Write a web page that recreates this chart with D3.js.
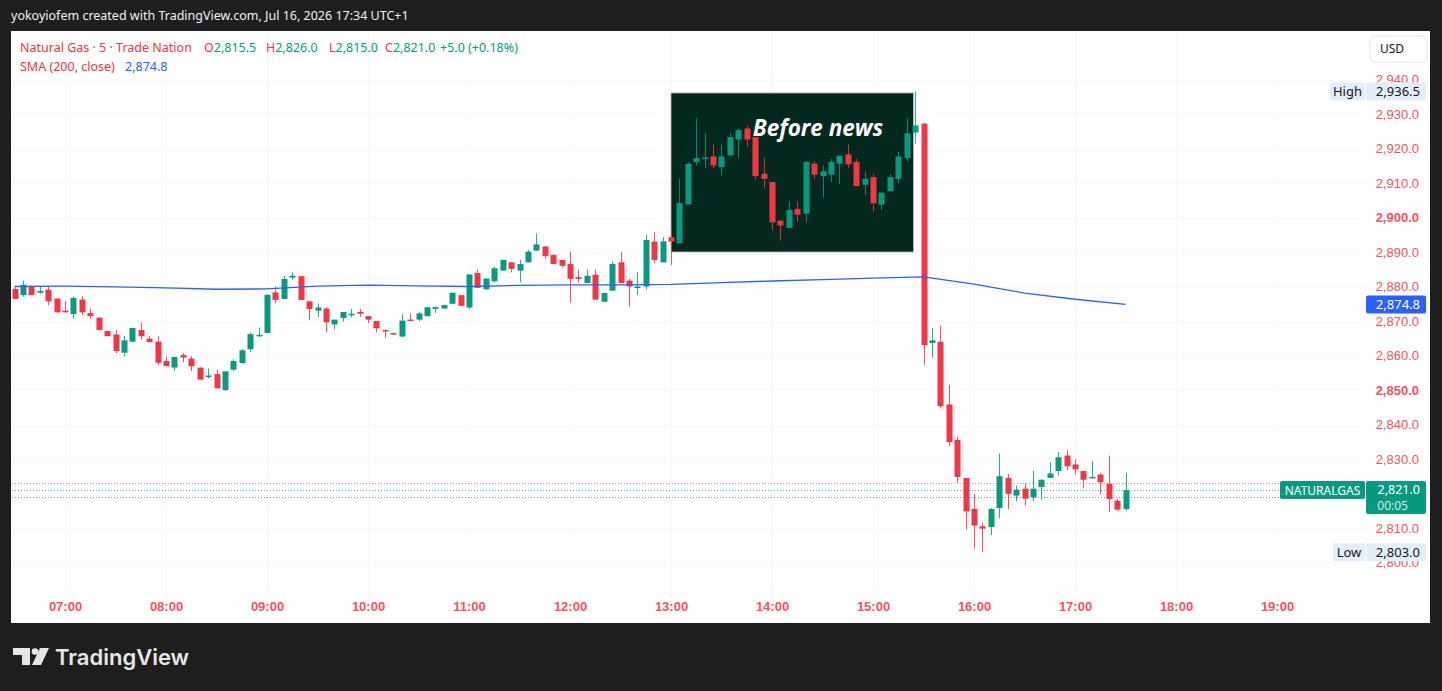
<!DOCTYPE html>
<meta charset="utf-8">
<style>
body { margin: 0; background: #1e1e1e; }
svg { display: block; font-family: "Noto Sans", Roboto, sans-serif; }
.axis text { font-size: 13px; fill: #f7525f; }
.axis .domain { display: none; }
.grid line { stroke: #f8f8fa; stroke-width: 1; }
</style>
<body>
<script src="https://d3js.org/d3.v7.min.js"></script>
<script>
// 5 minute candles, first one at 06:30, last one at 17:30
var startTime = "2026-07-16T06:30:00";
var stepMinutes = 5;

var opens = [2879.3,2877.5,2880.0,2878.2,2879.1,2876.5,2873.0,2872.0,2876.2,2872.3,
  2871.0,2867.1,2866.1,2860.8,2864.0,2867.4,2864.9,2864.0,2858.4,2856.5,
  2860.1,2859.1,2856.5,2854.0,2854.6,2850.0,2855.9,2857.8,2861.8,2865.6,
  2866.5,2878.3,2876.4,2882.6,2883.0,2875.7,2873.0,2873.6,2869.0,2870.9,
  2871.9,2872.6,2871.4,2870.0,2867.4,2866.5,2865.5,2870.4,2870.4,2871.4,
  2873.5,2873.6,2875.0,2877.5,2873.9,2883.9,2879.2,2881.5,2884.6,2887.0,
  2884.6,2887.0,2890.4,2891.6,2889.2,2887.7,2886.5,2882.7,2881.0,2883.4,
  2875.6,2878.8,2887.0,2881.7,2879.7,2880.0,2893.0,2887.0,2894.3,2892.5,
  2903.8,2916.1,2916.9,2917.7,2914.6,2918.0,2922.6,2925.8,2923.3,2912.7,
  2910.3,2899.1,2897.0,2902.5,2901.1,2915.6,2912.0,2912.4,2915.6,2918.3,
  2916.1,2909.5,2911.7,2903.7,2907.6,2911.2,2917.2,2924.6,2927.2,2863.6,
  2864.0,2845.8,2835.5,2824.5,2815.5,2810.5,2810.3,2815.8,2824.5,2819.4,
  2821.4,2818.9,2821.9,2824.5,2826.5,2831.0,2828.4,2826.5,2824.5,2825.5,
  2822.8,2817.9,2815.5];
var highs = [2879.8,2881.7,2880.2,2880.0,2880.0,2876.5,2875.7,2877.1,2877.1,2873.6,
  2871.0,2867.1,2867.4,2865.7,2868.0,2869.6,2865.6,2865.6,2859.7,2859.6,
  2860.7,2859.8,2856.5,2856.2,2856.0,2855.4,2858.9,2861.8,2866.7,2868.1,
  2877.6,2880.0,2883.1,2884.1,2883.0,2875.7,2875.1,2874.0,2870.4,2872.6,
  2873.5,2873.5,2871.4,2870.0,2867.4,2866.5,2872.0,2872.2,2872.7,2874.0,
  2874.2,2874.6,2878.2,2877.5,2883.5,2884.9,2882.3,2885.8,2887.7,2887.0,
  2887.7,2890.6,2895.3,2891.6,2889.2,2887.7,2890.1,2884.8,2884.9,2884.9,
  2878.1,2887.2,2890.1,2882.2,2884.1,2895.0,2895.7,2894.3,2896.2,2911.2,
  2916.0,2928.7,2924.4,2921.2,2921.2,2924.4,2925.8,2926.5,2923.3,2917.2,
  2910.3,2899.1,2904.7,2904.7,2916.3,2916.3,2915.1,2917.0,2917.9,2921.2,
  2917.0,2913.4,2912.7,2907.2,2912.5,2919.0,2928.7,2936.5,2927.5,2867.9,
  2868.6,2851.5,2836.4,2824.5,2819.9,2811.6,2815.8,2831.6,2825.7,2822.3,
  2822.9,2826.5,2824.0,2829.1,2832.0,2832.5,2829.9,2826.5,2829.4,2826.0,
  2831.0,2818.5,2826.0];
var lows = [2876.4,2877.0,2877.5,2877.9,2874.6,2872.5,2872.5,2870.7,2871.7,2870.7,
  2867.4,2865.6,2860.6,2859.7,2864.0,2864.6,2863.9,2857.2,2856.9,2855.5,
  2858.1,2855.5,2853.0,2853.3,2850.5,2849.7,2855.5,2857.6,2861.1,2865.4,
  2866.5,2875.2,2876.4,2882.0,2876.1,2870.3,2871.2,2866.7,2867.6,2869.8,
  2871.0,2871.2,2869.4,2866.7,2865.1,2866.1,2865.3,2870.0,2870.0,2871.4,
  2872.3,2873.6,2875.0,2874.4,2873.6,2879.6,2878.9,2881.2,2884.6,2884.1,
  2881.2,2887.0,2890.4,2888.0,2886.5,2885.5,2875.4,2881.2,2881.0,2876.2,
  2875.4,2878.8,2881.0,2874.2,2877.6,2879.2,2886.7,2887.0,2886.3,2892.5,
  2903.8,2915.1,2914.3,2914.3,2912.2,2917.7,2917.4,2920.4,2911.0,2908.4,
  2896.2,2893.3,2897.0,2898.8,2898.6,2911.2,2905.7,2910.3,2909.7,2914.3,
  2909.1,2906.6,2901.7,2902.2,2907.4,2909.8,2916.3,2921.4,2857.3,2859.4,
  2844.7,2833.7,2823.1,2809.5,2804.0,2803.0,2808.0,2812.9,2815.5,2817.7,
  2816.5,2817.7,2818.2,2824.5,2825.2,2826.7,2825.5,2821.6,2824.5,2819.7,
  2814.7,2815.0,2815.0];
var closes = [2876.4,2880.5,2877.5,2878.7,2875.7,2872.5,2872.5,2876.7,2872.5,2871.4,
  2867.4,2865.6,2861.3,2864.4,2868.0,2865.6,2863.9,2857.9,2856.9,2859.6,
  2859.4,2856.9,2853.0,2854.2,2850.5,2855.4,2858.4,2861.5,2866.2,2866.0,
  2877.6,2876.1,2882.2,2883.1,2876.1,2873.5,2873.9,2869.6,2870.4,2872.6,
  2872.1,2872.1,2870.4,2867.9,2867.1,2866.1,2870.1,2870.0,2872.2,2874.0,
  2874.0,2874.6,2878.2,2874.4,2883.5,2879.6,2882.3,2885.3,2887.7,2885.1,
  2886.5,2890.1,2892.2,2888.8,2886.5,2886.0,2882.2,2882.2,2883.1,2876.2,
  2878.1,2886.5,2881.0,2880.0,2880.0,2893.5,2887.7,2893.1,2893.0,2904.2,
  2915.6,2917.2,2917.4,2915.1,2917.7,2923.3,2925.3,2922.6,2912.0,2911.2,
  2898.6,2897.7,2902.2,2900.8,2916.1,2912.4,2913.4,2916.1,2917.9,2915.4,
  2909.1,2911.2,2904.1,2907.2,2911.7,2917.7,2924.4,2926.7,2863.0,2864.4,
  2845.3,2834.9,2824.8,2814.8,2810.7,2809.8,2815.5,2825.0,2819.9,2821.1,
  2818.5,2821.4,2824.0,2825.8,2830.5,2827.9,2827.0,2824.0,2824.8,2823.3,
  2818.4,2815.3,2821.0];

// SMA(200) read every 6th candle (every half hour)
var smaIndex = [0,6,12,18,24,30,36,42,48,54,60,66,72,78,84,90,96,102,108,114,120,126,132];
var smaValues = [2880.0,2880.1,2879.9,2879.6,2879.2,2879.3,2880.1,2880.4,2880.2,2880.0,
  2880.3,2880.5,2880.5,2880.6,2881.1,2881.6,2882.0,2882.4,2882.8,2880.7,2878.1,2876.3,2874.8];

// 2,820.0 sits under the last price tag, so it is not drawn
var priceTicks = [2800,2810,2830,2840,2850,2860,2870,2880,2890,2900,2910,2920,2930,2940];
var gridTicks = [2800,2810,2820,2830,2840,2850,2860,2870,2880,2890,2900,2910,2920,2930,2940];
var strongTicks = [2850,2900];
var bidAskLines = [{p: 2823.0, c: "#f7525f"}, {p: 2821.0, c: "#089981"}, {p: 2819.0, c: "#2962ff"}];

var lastPrice = 2821.0, smaLast = 2874.8, dayHigh = 2936.5, dayLow = 2803.0;
var newsBox = {from: "2026-07-16T13:00:00", to: "2026-07-16T15:24:00", top: 2936.1, bottom: 2890.0};

var up = "#089981", down = "#f23645";
var t0 = new Date(startTime);
var candles = opens.map(function(o, i) {
  return {t: d3.timeMinute.offset(t0, i * stepMinutes), o: o, h: highs[i], l: lows[i], c: closes[i]};
});

var W = 1442, H = 691;
var svg = d3.select("body").append("svg").attr("width", W).attr("height", H);

svg.append("rect").attr("width", W).attr("height", H).attr("fill", "#1e1e1e");
svg.append("text").attr("x", 11).attr("y", 20).attr("fill", "#f0f0f0").attr("font-size", 12.5)
  .text("yokoyiofem created with TradingView.com, Jul 16, 2026 17:34 UTC+1");

// white chart panel
svg.append("rect").attr("x", 11).attr("y", 31).attr("width", 1419).attr("height", 592).attr("fill", "#fff");

var x = d3.scaleTime()
  .domain([new Date("2026-07-16T07:00:00"), new Date("2026-07-16T19:00:00")])
  .range([65, 1277]);
var y = d3.scaleLinear().domain([2800, 2940]).range([562.5, 79.5]);

// faint grid
var grid = svg.append("g").attr("class", "grid");
grid.selectAll(".v").data(x.ticks(d3.timeHour.every(1))).enter().append("line")
  .attr("x1", function(d) { return Math.round(x(d)) + 0.5; })
  .attr("x2", function(d) { return Math.round(x(d)) + 0.5; })
  .attr("y1", 31).attr("y2", 595);
grid.selectAll(".h").data(gridTicks).enter().append("line")
  .attr("x1", 12).attr("x2", 1365)
  .attr("y1", function(d) { return Math.round(y(d)) + 0.5; })
  .attr("y2", function(d) { return Math.round(y(d)) + 0.5; });

// "Before news" box
svg.append("rect")
  .attr("x", x(new Date(newsBox.from))).attr("y", y(newsBox.top))
  .attr("width", x(new Date(newsBox.to)) - x(new Date(newsBox.from)))
  .attr("height", y(newsBox.bottom) - y(newsBox.top))
  .attr("fill", "#03291f").attr("stroke", "#b9bfbc").attr("stroke-width", 0.8);

// dotted price lines
svg.selectAll(".pl").data(bidAskLines).enter().append("line")
  .attr("x1", 12).attr("x2", 1280)
  .attr("y1", function(d) { return Math.round(y(d.p)) + 0.5; })
  .attr("y2", function(d) { return Math.round(y(d.p)) + 0.5; })
  .attr("stroke", function(d) { return d.c; }).attr("stroke-width", 1)
  .attr("stroke-dasharray", "1,2").attr("opacity", 0.7);

// candles
var cg = svg.append("g");
var cand = cg.selectAll("g").data(candles).enter().append("g");
cand.append("line")
  .attr("x1", function(d) { return Math.round(x(d.t)) + 0.5; })
  .attr("x2", function(d) { return Math.round(x(d.t)) + 0.5; })
  .attr("y1", function(d) { return y(d.h); })
  .attr("y2", function(d) { return y(d.l); })
  .attr("stroke", function(d) { return d.c >= d.o ? up : down; })
  .attr("stroke-width", 1).attr("opacity", 0.85);
cand.append("rect")
  .attr("x", function(d) { return Math.round(x(d.t)) - 2.5; })
  .attr("width", 6)
  .attr("y", function(d) { return y(Math.max(d.o, d.c)); })
  .attr("height", function(d) { return Math.max(1.5, Math.abs(y(d.o) - y(d.c))); })
  .attr("fill", function(d) { return d.c >= d.o ? up : down; });

// SMA line
svg.append("path")
  .datum(smaIndex.map(function(k, j) { return {t: candles[k].t, v: smaValues[j]}; }))
  .attr("fill", "none").attr("stroke", "#2962ff").attr("stroke-width", 1.3)
  .attr("d", d3.line()
    .x(function(d) { return x(d.t); }).y(function(d) { return y(d.v); }));

svg.append("text").attr("x", 818).attr("y", 136).attr("text-anchor", "middle")
  .attr("fill", "#fff").attr("font-size", 22.5).attr("font-weight", "bold").attr("font-style", "italic")
  .attr("font-family", "'Open Sans', 'Noto Sans', sans-serif")
  .text("Before news");

// axes
var xAxis = svg.append("g").attr("class", "axis").attr("transform", "translate(0,600)")
  .call(d3.axisBottom(x).ticks(d3.timeHour.every(1)).tickSize(0).tickPadding(2)
    .tickFormat(d3.timeFormat("%H:%M")));
xAxis.selectAll("text").attr("font-weight", 600);

var yAxis = svg.append("g").attr("class", "axis").attr("transform", "translate(1419,0)")
  .call(d3.axisLeft(y).tickValues(priceTicks).tickSize(0).tickPadding(0).tickFormat(d3.format(",.1f")));
yAxis.selectAll("text")
  .attr("font-weight", function(d) { return strongTicks.indexOf(d) >= 0 ? 700 : 400; })
  .attr("fill", function(d) { return strongTicks.indexOf(d) >= 0 ? "#f23645" : "#f7525f"; });

// price labels on the right
function tag(x0, w, yc, h, fill, txt, col, anchor, fs) {
  svg.append("rect").attr("x", x0).attr("y", yc - h / 2).attr("width", w).attr("height", h)
    .attr("rx", 2).attr("fill", fill);
  svg.append("text").attr("x", anchor === "end" ? x0 + w - 6 : x0 + w / 2).attr("y", yc + 4.5)
    .attr("text-anchor", anchor || "middle").attr("font-size", fs || 13).attr("fill", col).text(txt);
}
var f1 = d3.format(",.1f");
tag(1330, 35, y(dayHigh), 18, "#e3eefc", "High", "#131722");
tag(1366, 60, y(dayHigh), 18, "#e3eefc", f1(dayHigh), "#131722", "end");
tag(1333, 32, y(dayLow), 18, "#e3eefc", "Low", "#131722");
tag(1366, 60, y(dayLow), 18, "#e3eefc", f1(dayLow), "#131722", "end");
tag(1366, 60, y(smaLast), 18, "#2962ff", f1(smaLast), "#fff", "end");
tag(1280, 85, y(lastPrice), 18, up, "NATURALGAS", "#fff", "middle", 12);
svg.append("rect").attr("x", 1366).attr("y", y(lastPrice) - 9).attr("width", 60).attr("height", 33)
  .attr("rx", 2).attr("fill", up);
svg.append("text").attr("x", 1420).attr("y", y(lastPrice) + 4).attr("text-anchor", "end")
  .attr("font-size", 12.5).attr("fill", "#fff").text(f1(lastPrice));
svg.append("text").attr("x", 1408).attr("y", y(lastPrice) + 19.5).attr("text-anchor", "end")
  .attr("font-size", 12).attr("fill", "#cdeee6").text("00:05");

// USD button
svg.append("rect").attr("x", 1370).attr("y", 36).attr("width", 57).attr("height", 26).attr("rx", 5)
  .attr("fill", "#fff").attr("stroke", "#e0e3eb");
svg.append("text").attr("x", 1380).attr("y", 53).attr("font-size", 12).attr("fill", "#131722").text("USD");

// legend lines
var l1 = svg.append("text").attr("x", 20).attr("y", 52).attr("font-size", 12.5);
l1.append("tspan").attr("fill", down).text("Natural Gas · 5 · Trade Nation");
[["O", "2,815.5", 204], ["H", "2,826.0", 266], ["L", "2,815.0", 329], ["C", "2,821.0", 385]].forEach(function(p) {
  l1.append("tspan").attr("x", p[2]).attr("fill", down).text(p[0]);
  l1.append("tspan").attr("fill", up).text(p[1]);
});
l1.append("tspan").attr("x", 440).attr("fill", up).text("+5.0 (+0.18%)");
var l2 = svg.append("text").attr("x", 20).attr("y", 71).attr("font-size", 12.5);
l2.append("tspan").attr("fill", down).text("SMA (200, close)");
l2.append("tspan").attr("x", 125).attr("fill", "#2962ff").text(f1(smaLast));

// footer logo
var logo = svg.append("g").attr("fill", "#e6e6e6");
logo.append("path").attr("d", "M13,648H30V665H22V655H13Z");
logo.append("circle").attr("cx", 35).attr("cy", 651.5).attr("r", 3.3);
logo.append("path").attr("d", "M40,648H49L41,665H32Z");
svg.append("text").attr("x", 55).attr("y", 665).attr("font-family", "Inter, sans-serif")
  .attr("font-size", 22).attr("font-weight", 600).attr("fill", "#e6e6e6").text("TradingView");
</script>
</body>
